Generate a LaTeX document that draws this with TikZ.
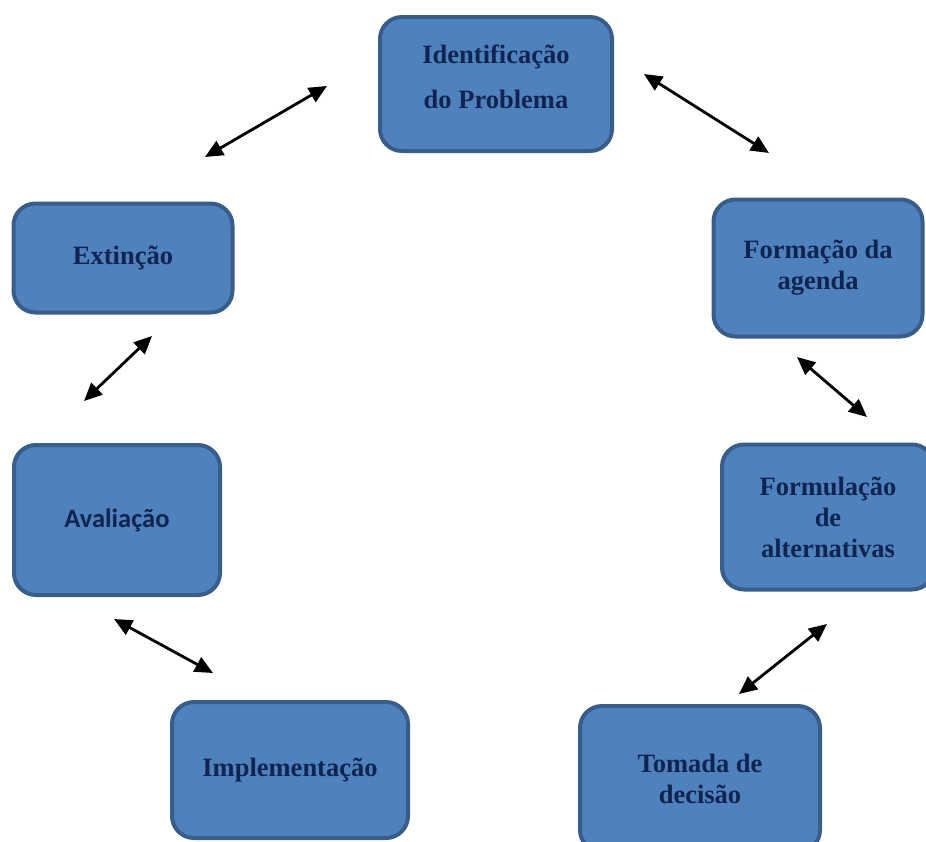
\documentclass[tikz,border=0pt]{standalone}
\usepackage{fontspec}
\setmainfont{Liberation Serif}
\newfontfamily\calibri{Carlito}
\usetikzlibrary{arrows.meta}

\definecolor{boxfill}{RGB}{79,129,189}
\definecolor{boxline}{RGB}{56,93,138}
\definecolor{boxtext}{RGB}{15,36,80}

\tikzset{
  etapa/.style={draw=boxline, line width=4pt, fill=boxfill, rounded corners=22pt,
    text=boxtext, font=\fontsize{26.5}{31}\selectfont\bfseries, align=center, inner sep=0pt},
  seta/.style={line width=2.8pt, {Triangle[length=18pt,width=16pt]}-{Triangle[length=18pt,width=16pt]}}
}

\begin{document}
\begin{tikzpicture}[x=1pt,y=-1pt]

\useasboundingbox (0,0) rectangle (926,841);
\clip (0,0) rectangle (926,841);

%% the stages of the cycle
\node [etapa, minimum width=232pt, minimum height=134pt] (ident) at (496,84) {Identificação\\[14pt]do Problema\\[-17pt]\mbox{}};
\node [etapa, minimum width=209pt, minimum height=137pt] (agenda) at (818,268) {Formação da\\agenda};
\node [etapa, minimum width=212pt, minimum height=145pt] (formul) at (828,517) {Formulação\\de\\alternativas};
\node [etapa, minimum width=240pt, minimum height=146pt] (decisao) at (700,779) {Tomada de\\decisão};
\node [etapa, minimum width=236pt, minimum height=136pt] (implem) at (290,770) {Implementação};
\node [etapa, minimum width=206pt, minimum height=150pt, font=\calibri\fontsize{26.5}{31}\selectfont\bfseries] (aval) at (117,520) {Avaliação};
\node [etapa, minimum width=219pt, minimum height=109pt] (extin) at (123,258) {Extinção};

%% end points of the arrows
\coordinate (e1) at (205,157);  \coordinate (i1) at (327,86);
\coordinate (i2) at (644,74);   \coordinate (g1) at (769,153);
\coordinate (g2) at (797,357);  \coordinate (f1) at (867,417);
\coordinate (f2) at (827,624);  \coordinate (d1) at (739,694);
\coordinate (v1) at (114,619);  \coordinate (m1) at (213,673);
\coordinate (v2) at (84,401);   \coordinate (e2) at (152,336);

%% double arrows between the stages
\draw [seta] (e1) -- (i1);
\draw [seta] (i2) -- (g1);
\draw [seta] (g2) -- (f1);
\draw [seta] (f2) -- (d1);
\draw [seta] (v1) -- (m1);
\draw [seta] (v2) -- (e2);

\end{tikzpicture}
\end{document}
